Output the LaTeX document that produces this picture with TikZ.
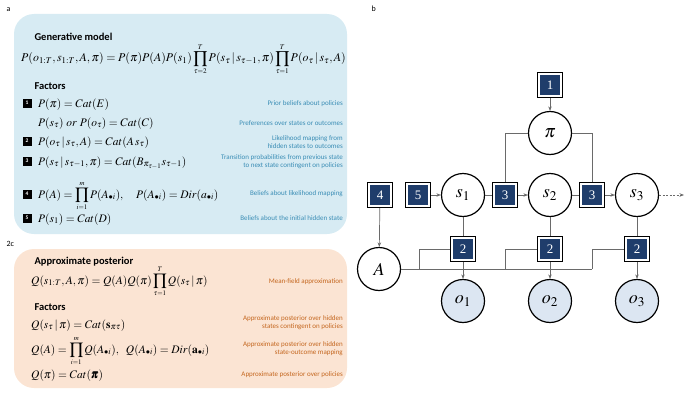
\documentclass[tikz,border=0pt]{standalone}
\usepackage[no-math]{fontspec}
\usepackage{mathptmx}
\usepackage{bm}
\setmainfont{Liberation Serif}
\newfontfamily\lblfont{Carlito}
\usetikzlibrary{arrows.meta}
\definecolor{navy}{HTML}{1F3D6B}
\definecolor{bluebg}{HTML}{D7EBF3}
\definecolor{bluetx}{HTML}{3A8DB5}
\definecolor{orangebg}{HTML}{FBE4D3}
\definecolor{orangetx}{HTML}{C4661E}
\definecolor{ofill}{HTML}{DCE6F2}
\definecolor{wire}{HTML}{6A6A6A}
\newcommand{\bprod}[2]{\displaystyle\prod_{\scriptscriptstyle #1}^{\scriptscriptstyle #2}}
\begin{document}
\begin{tikzpicture}[x=1pt,y=-1pt,
  panel/.style={font=\lblfont\fontsize{8}{8}\selectfont, anchor=base west},
  head/.style={font=\lblfont\bfseries\fontsize{10.5}{11}\selectfont, anchor=base west},
  eq/.style={font=\fontsize{11.5}{12}\selectfont, anchor=base west, inner sep=0pt},
  bdesc/.style={font=\lblfont\fontsize{7}{8}\selectfont, text=bluetx, align=right, anchor=east, inner sep=0pt},
  odesc/.style={font=\lblfont\fontsize{7}{8}\selectfont, text=orangetx, align=right, anchor=east, inner sep=0pt},
  icon/.style={fill=black, text=white, minimum size=9pt, inner sep=0pt, font=\lblfont\bfseries\fontsize{5.5}{5.5}\selectfont},
  var/.style={circle, draw=black, line width=1.2pt, fill=white, minimum size=43pt, inner sep=0pt, font=\fontsize{18}{18}\selectfont},
  obs/.style={var, fill=ofill},
  fac/.style={draw=black, line width=1.3pt, fill=white, minimum size=25pt, inner sep=0pt, text=white,
    font=\fontsize{13}{13}\selectfont,
    path picture={\fill[navy] ([shift={(2.8pt,2.8pt)}]path picture bounding box.south west) rectangle ([shift={(-2.8pt,-2.8pt)}]path picture bounding box.north east);}},
  wire/.style={draw=wire, line width=0.7pt},
  arr/.style={wire, -{Stealth[length=4.5pt,width=3.5pt]}}
]
\useasboundingbox (0,0) rectangle (695,396);

% ---------- panel a ----------
\node[panel] (la) at (3,12) {a};
\fill[bluebg, rounded corners=20pt] (14,14) rectangle (347,234);
\node[head] (gm) at (31,41) {Generative model};
\node[eq, font=\fontsize{11.9}{12}\selectfont] (geq) at (21,62) {$P(o_{1:T},s_{1:T},A,\pi)=P(\pi)P(A)P(s_1)\bprod{\tau=2}{T}P(s_\tau\,|\,s_{\tau-1},\pi)\bprod{\tau=1}{T}P(o_\tau\,|\,s_\tau,A)$};
\node[head] (gf) at (31,89) {Factors};

\node[icon] (i1) at (27,103) {1};
\node[eq] (r1) at (38,107) {$P(\pi)=Cat(E)$};
\node[bdesc] (d1) at (343,104) {Prior beliefs about policies};

\node[eq] (r2) at (38,126) {$P(s_\tau)\ or\ P(o_\tau)=Cat(C)$};
\node[bdesc] (d2) at (343,123) {Preferences over states or outcomes};

\node[icon] (i2) at (27,141) {2};
\node[eq] (r3) at (38,145) {$P(o_\tau\,|\,s_\tau,A)=Cat(A\,s_\tau)$};
\node[bdesc] (d3) at (343,142) {Likelihood mapping from\\hidden states to outcomes};

\node[icon] (i3) at (27,161) {3};
\node[eq] (r4) at (38,165) {$P(s_\tau\,|\,s_{\tau-1},\pi)=Cat(B_{\pi_{\tau-1}}s_{\tau-1})$};
\node[bdesc] (d4) at (343,162) {Transition probabilities from previous state\\to next state contingent on policies};

\node[icon] (i4) at (27,194) {4};
\node[eq] (r5) at (38,198) {$P(A)=\bprod{i=1}{m}P(A_{\bullet i}),\quad P(A_{\bullet i})=Dir(a_{\bullet i})$};
\node[bdesc] (d5) at (343,194) {Beliefs about likelihood mapping};

\node[icon] (i5) at (27,218) {5};
\node[eq] (r6) at (38,222) {$P(s_1)=Cat(D)$};
\node[bdesc] (d6) at (343,218) {Beliefs about the initial hidden state};

% ---------- panel 2c ----------
\node[panel] (lc) at (3,246) {2c};
\fill[orangebg, rounded corners=20pt] (14,249) rectangle (347,388);
\node[head] (ap) at (31,264) {Approximate posterior};
\node[eq] (qeq) at (31,284) {$Q(s_{1:T},A,\pi)=Q(A)Q(\pi)\bprod{\tau=1}{T}Q(s_\tau\,|\,\pi)$};
\node[odesc] (e1) at (343,282) {Mean-field approximation};
\node[head] (qf) at (31,310) {Factors};
\node[eq] (q1) at (31,328) {$Q(s_\tau\,|\,\pi)=Cat(\mathbf{s}_{\pi\tau})$};
\node[odesc] (e2) at (343,323) {Approximate posterior over hidden\\states contingent on policies};
\node[eq] (q2) at (31,353) {$Q(A)=\bprod{i=1}{m}Q(A_{\bullet i}),\ \ Q(A_{\bullet i})=Dir(\mathbf{a}_{\bullet i})$};
\node[odesc] (e3) at (343,349) {Approximate posterior over hidden\\state-outcome mapping};
\node[eq] (q3) at (31,378) {$Q(\pi)=Cat(\bm{\pi})$};
\node[odesc] (e4) at (343,375) {Approximate posterior over policies};

% ---------- panel b ----------
\node[panel] (lb) at (368,12) {b};
\node[var] (pi) at (550,133) {$\pi$};
\node[fac] (b1) at (550,85) {1};
\node[var] (s1) at (463,195) {$s_1$};
\node[var] (s2) at (550,195) {$s_2$};
\node[var] (s3) at (637,195) {$s_3$};
\node[fac] (b5) at (418,195) {5};
\node[fac] (b4) at (380,195) {4};
\node[fac] (b3a) at (505,195) {3};
\node[fac] (b3b) at (592,195) {3};
\node[fac] (b2a) at (463,249) {2};
\node[fac] (b2b) at (550,249) {2};
\node[fac] (b2c) at (637,249) {2};
\node[var] (A) at (379,269) {$A$};
\node[obs] (o1) at (463,301) {$o_1$};
\node[obs] (o2) at (550,301) {$o_2$};
\node[obs] (o3) at (637,301) {$o_3$};
\coordinate (send) at (684,195);
\coordinate (j1) at (419,269);
\coordinate (j2) at (505,269);
\coordinate (j3) at (592,269);

\draw[arr] (b1) -- (pi);
\draw[wire] (pi.west) -| (b3a.north);
\draw[wire] (pi.east) -| (b3b.north);
\draw[arr] (b5) -- (s1);
\draw[wire] (s1) -- (b3a);
\draw[arr] (b3a) -- (s2);
\draw[wire] (s2) -- (b3b);
\draw[arr] (b3b) -- (s3);
\draw[arr, dash pattern=on 2pt off 1.5pt] (s3) -- (send);
\draw[wire] (s1) -- (b2a);
\draw[wire] (s2) -- (b2b);
\draw[wire] (s3) -- (b2c);
\draw[arr] (b2a) -- (o1);
\draw[arr] (b2b) -- (o2);
\draw[arr] (b2c) -- (o3);
\draw[arr] (b4) -- (A);
\draw[wire] (A.east) -- (j3);
\draw[wire] (j1) |- (b2a.west);
\draw[wire] (j2) |- (b2b.west);
\draw[wire] (j3) |- (b2c.west);
\end{tikzpicture}
\end{document}
